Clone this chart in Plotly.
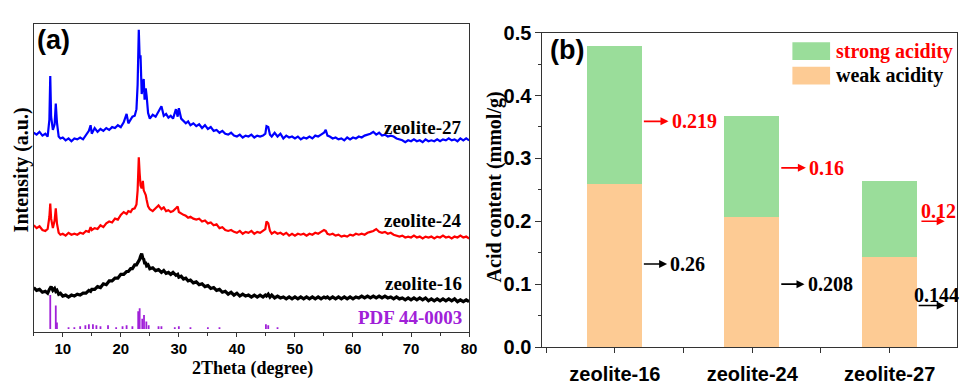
import plotly.graph_objects as go

# ---------------- data: panel (a) XRD patterns ----------------
two_theta = [
    5.0, 5.5, 6.0, 6.5, 7.0, 7.4, 7.7, 7.85, 8.0, 8.3, 8.6, 8.8, 9.0, 9.3, 9.6, 10.0, 10.5, 11.0, 11.5, 12.0, 12.5, 13.0, 13.5,
    14.0, 14.5, 14.8, 15.0, 15.5, 16.0, 16.5, 17.0, 17.5, 18.0, 18.5, 19.0, 19.5, 20.0, 20.5, 21.0, 21.3, 21.7, 22.0, 22.4, 22.7,
    22.9, 23.1, 23.25, 23.4, 23.6, 23.8, 23.95, 24.1, 24.3, 24.45, 24.7, 25.0,
    25.5, 26.0, 26.5, 27.0, 27.4, 27.8, 28.2, 28.6, 29.0, 29.5, 29.8, 30.0, 30.4, 30.8, 31.2, 31.6, 32.0,
    32.5, 33.0, 33.5, 34.0, 34.5, 35.0, 35.5, 36.0, 36.5, 37.0, 37.5, 38.0, 38.5, 39.0, 39.5, 40.0, 40.5, 41.0, 41.5, 42.0, 42.5, 43.0, 43.5, 44.0, 44.5,
    44.9, 45.1, 45.4, 45.7,
    46.0, 46.5, 47.0, 47.5, 48.0, 48.5, 49.0, 49.5, 50.0, 50.5, 51.0, 51.5, 52.0, 52.5, 53.0, 53.5, 54.0, 54.5, 55.0,
    55.3, 55.6,
    56.0, 56.5, 57.0, 57.5, 58.0, 58.5, 59.0, 59.5, 60.0, 60.5, 61.0, 61.5, 62.0, 62.5, 63.0, 63.5, 64.0, 64.5, 65.0, 65.5,
    66.0, 66.5, 67.0, 67.5, 68.0, 68.5, 69.0, 69.5, 70.0, 70.5, 71.0, 71.5, 72.0, 72.5, 73.0, 73.5, 74.0, 74.5, 75.0, 75.5,
    76.0, 76.5, 77.0, 77.5, 78.0, 78.5, 79.0, 79.5, 80.0,
]

zeolite_27 = [
    211, 209, 212, 208, 210, 207, 225, 271, 228, 214, 220, 242, 222, 207, 205, 206, 203, 205, 202, 205, 204, 206, 204,
    209, 213, 219, 210, 216, 212, 215, 213, 216, 214, 217, 216, 219, 217, 222, 231, 221, 225, 228, 229, 236,
    262, 320, 290, 293, 252, 262, 268, 246, 258, 250, 232, 226,
    230, 228, 233, 239, 229, 231, 227, 229, 226, 236, 228, 237, 226, 224, 221, 223, 219,
    221, 218, 220, 216, 219, 215, 217, 213, 214, 211, 213, 210, 209, 211, 208, 207, 209, 206, 208, 207, 209, 206, 208, 207, 208,
    210, 218, 217, 209,
    207, 211, 207, 210, 205, 208, 206, 207, 205, 207, 204, 206, 205, 207, 205, 208, 207, 209, 211,
    214, 208,
    207, 205, 206, 204, 205, 203, 206, 204, 206, 205, 207, 206, 208, 209, 210, 212, 209, 211, 208, 209,
    207, 208, 207, 205, 204, 203, 201, 203, 202, 204, 202, 203, 201, 204, 202, 203, 202, 204, 202, 204,
    203, 205, 203, 204, 202, 205, 203, 205, 203,
]

zeolite_24 = [
    113, 110, 112, 108, 107, 109, 122, 136, 120, 110, 118, 131, 115, 105, 103, 104, 102, 105, 103, 104, 103, 105, 104,
    107, 106, 111, 108, 110, 109, 113, 111, 115, 117, 116, 120, 119, 124, 127, 125, 128, 127, 130, 131, 135,
    150, 185, 168, 155, 152, 160, 150, 148, 145, 140, 133, 130,
    128, 131, 134, 130, 132, 128, 129, 127, 128, 131, 133, 127, 125, 124, 123, 121, 122,
    120, 119, 120, 117, 118, 115, 116, 113, 114, 110, 111, 108, 107, 108, 106, 105, 107, 104, 106, 105, 107, 104, 106, 105, 107,
    109, 117, 115, 107,
    104, 106, 104, 105, 103, 105, 102, 104, 102, 104, 103, 104, 102, 104, 103, 105, 104, 106, 108,
    107, 104,
    103, 104, 102, 103, 101, 102, 101, 103, 102, 104, 103, 104, 103, 105, 106, 107, 109, 106, 105, 106,
    104, 105, 103, 102, 101, 102, 100, 101, 100, 102, 100, 101, 99, 101, 100, 101, 99, 101, 100, 102,
    100, 101, 99, 101, 100, 102, 100, 101, 99,
]

zeolite_16 = [
    47, 44, 45, 42, 43, 41, 45, 47, 48, 44, 46, 43, 44, 40, 41, 38, 39, 37, 39, 38, 40, 39, 41,
    41, 44, 43, 45, 45, 48, 47, 51, 50, 54, 54, 57, 57, 61, 61, 64, 64, 67, 67, 71, 71,
    73, 76, 77, 80, 83, 78, 77, 73, 73, 70, 71, 67,
    68, 65, 66, 63, 65, 62, 63, 61, 63, 60, 61, 58, 59, 56, 57, 54, 55,
    52, 53, 50, 51, 48, 49, 46, 47, 44, 45, 42, 43, 40, 42, 39, 41, 38, 40, 38, 39, 37, 39, 37, 39, 37,
    39, 38, 40, 37,
    39, 36, 38, 36, 37, 35, 37, 35, 37, 35, 37, 35, 37, 35, 37, 35, 37, 35, 37,
    36, 37,
    35, 37, 35, 37, 35, 37, 35, 37, 35, 37, 36, 38, 36, 38, 36, 38, 36, 38, 36, 38,
    36, 37, 35, 37, 35, 36, 34, 36, 34, 36, 34, 36, 34, 36, 33, 35, 33, 35, 33, 35,
    33, 35, 33, 35, 32, 34, 32, 34, 32,
]

# reference pattern PDF 44-0003 (stick positions and heights)
pdf_theta = [7.85, 8.8, 9.0, 11.0, 12.0, 13.0, 13.9, 14.5, 15.2, 15.8, 16.5, 17.8, 19.2, 20.3, 21.0, 22.0,
             23.0, 23.25, 23.7, 24.0, 24.4, 24.8, 26.5, 27.0, 29.3, 30.0, 32.0, 35.0, 37.0, 45.0, 45.4, 47.0]
pdf_height = [36, 25, 7, 2, 2, 3, 4, 5, 5, 4, 3, 4, 2, 3, 4, 3,
              19, 22, 11, 15, 8, 4, 3, 3, 2, 3, 2, 2, 2, 5, 4, 2]
pdf_base = 3

# ---------------- data: panel (b) acid content ----------------
samples = ["zeolite-16", "zeolite-24", "zeolite-27"]
weak_acidity = [0.26, 0.208, 0.144]
strong_acidity = [0.219, 0.16, 0.12]

# ---------------- styling ----------------
SERIF = "Liberation Serif, Times New Roman, serif"
SANS = "Liberation Sans, Arial, sans-serif"
GREEN = "#9ADD9A"
ORANGE = "#FDCB94"
PURPLE = "#A020D8"
FRAME = "#333333"

fig = go.Figure()

fig.add_trace(go.Scatter(x=two_theta, y=zeolite_16, mode="lines",
                         line=dict(color="black", width=3.2), xaxis="x", yaxis="y", showlegend=False))
fig.add_trace(go.Scatter(x=two_theta, y=zeolite_24, mode="lines",
                         line=dict(color="#FF0000", width=2.2), xaxis="x", yaxis="y", showlegend=False))
fig.add_trace(go.Scatter(x=two_theta, y=zeolite_27, mode="lines",
                         line=dict(color="#0000FF", width=2.2), xaxis="x", yaxis="y", showlegend=False))

stick_x, stick_y = [], []
for t, h in zip(pdf_theta, pdf_height):
    stick_x += [t, t, None]
    stick_y += [pdf_base, pdf_base + h, None]
fig.add_trace(go.Scatter(x=stick_x, y=stick_y, mode="lines",
                         line=dict(color=PURPLE, width=1.8), xaxis="x", yaxis="y", showlegend=False))

xpos = list(range(len(samples)))
fig.add_trace(go.Bar(x=xpos, y=weak_acidity, width=0.4, marker=dict(color=ORANGE, line=dict(width=0)),
                     xaxis="x2", yaxis="y2", showlegend=False, name="weak acidity"))
fig.add_trace(go.Bar(x=xpos, y=strong_acidity, width=0.4, marker=dict(color=GREEN, line=dict(width=0)),
                     xaxis="x2", yaxis="y2", showlegend=False, name="strong acidity"))

W, H = 968, 392


def px_x(p):
    return p / W


def px_y(p):
    return 1 - p / H


annotations = []

# panel (a) curve labels
label_specs = [("zeolite-27", 217, "black"), ("zeolite-24", 118, "black"),
               ("zeolite-16", 51, "black"), ("PDF 44-0003", 15, PURPLE)]
for txt, yv, col in label_specs:
    annotations.append(dict(x=79.2, y=yv, xref="x", yref="y", text=f"<b>{txt}</b>", showarrow=False,
                            xanchor="right", yanchor="middle", font=dict(family=SERIF, size=19, color=col)))

# panel letters and axis titles
annotations += [
    dict(x=px_x(35), y=px_y(13), xref="paper", yref="paper", text="<b>(a)</b>", showarrow=False,
         xanchor="left", yanchor="top", font=dict(family=SANS, size=27, color="black")),
    dict(x=px_x(553), y=px_y(23), xref="paper", yref="paper", text="<b>(b)</b>", showarrow=False,
         xanchor="left", yanchor="top", font=dict(family=SANS, size=27, color="black")),
    dict(x=px_x(22), y=px_y(168), xref="paper", yref="paper", text="<b>Intensity (a.u.)</b>", showarrow=False,
         textangle=-90, xanchor="center", yanchor="middle", font=dict(family=SERIF, size=20, color="black")),
    dict(x=px_x(255), y=0, xref="paper", yref="paper", text="<b>2Theta (degree)</b>", showarrow=False,
         xanchor="center", yanchor="bottom", borderpad=0, yshift=1,
         font=dict(family=SERIF, size=18, color="black")),
    dict(x=px_x(499), y=px_y(186), xref="paper", yref="paper", text="<b>Acid content (mmol/g)</b>", showarrow=False,
         textangle=-90, xanchor="center", yanchor="middle", font=dict(family=SERIF, size=20, color="black")),
]

# legend (manual, large swatches)
legend_items = [("strong acidity", GREEN, "#FF0000", 33, 52), ("weak acidity", ORANGE, "black", 59, 78)]
shapes = []
for txt, fill, tcol, y0, y1 in legend_items:
    shapes.append(dict(type="rect", xref="paper", yref="paper", x0=px_x(799), x1=px_x(837),
                       y0=px_y(y1), y1=px_y(y0), fillcolor=fill, line=dict(width=0)))
    annotations.append(dict(x=px_x(841), y=px_y((y0 + y1) / 2), xref="paper", yref="paper",
                            text=f"<b>{txt}</b>", showarrow=False, xanchor="left", yanchor="middle",
                            font=dict(family=SERIF, size=20, color=tcol)))

# value callouts with arrows
# (tail x, head x, arrow y, text x, text y, colour, value)
callouts = [
    (0.2, 0.39, 0.359, 0.40, 0.359, "#FF0000", strong_acidity[0]),
    (1.2, 1.39, 0.285, 1.40, 0.285, "#FF0000", strong_acidity[1]),
    (2.22, 2.40, 0.200, 2.21, 0.216, "#FF0000", strong_acidity[2]),
    (0.2, 0.38, 0.132, 0.39, 0.132, "black", weak_acidity[0]),
    (1.2, 1.38, 0.100, 1.39, 0.100, "black", weak_acidity[1]),
    (2.20, 2.40, 0.066, 2.16, 0.082, "black", weak_acidity[2]),
]
for tx, hx, ay, txx, tyy, col, val in callouts:
    annotations.append(dict(x=hx, y=ay, ax=tx, ay=ay, xref="x2", yref="y2", axref="x2", ayref="y2",
                            text="", showarrow=True, arrowhead=2, arrowsize=1, arrowwidth=1.6, arrowcolor=col))
    annotations.append(dict(x=txx, y=tyy, xref="x2", yref="y2", text=f"<b>{val:g}</b>", showarrow=False,
                            xanchor="left", yanchor="middle", font=dict(family=SERIF, size=20, color=col)))

axis_common = dict(showgrid=False, zeroline=False, showline=True, linecolor=FRAME, linewidth=1.2, mirror=True)

fig.update_layout(
    width=W, height=H, margin=dict(l=0, r=0, t=0, b=0),
    paper_bgcolor="white", plot_bgcolor="white",
    barmode="stack", bargap=0,
    xaxis=dict(domain=[px_x(34), px_x(473)], range=[5, 80], anchor="y",
               tickmode="array", tickvals=[10, 20, 30, 40, 50, 60, 70, 80],
               ticks="outside", ticklen=4, tickwidth=1.2, tickcolor=FRAME, ticklabelstandoff=-1,
               minor=dict(tickmode="linear", tick0=5, dtick=5, ticks="outside", ticklen=3, tickcolor=FRAME),
               tickfont=dict(family=SANS, size=15, color="black", weight="bold"), **axis_common),
    yaxis=dict(domain=[px_y(340), px_y(14)], range=[0, 326], anchor="x",
               showticklabels=False, ticks="", **axis_common),
    xaxis2=dict(domain=[px_x(547), px_x(965)], range=[-0.527, 2.49], anchor="y2",
                tickmode="array", tickvals=xpos, ticktext=samples,
                ticks="outside", ticklen=5, tickwidth=1.2, tickcolor=FRAME, ticklabelstandoff=4,
                minor=dict(tickmode="linear", tick0=0.5, dtick=1, ticks="outside", ticklen=5, tickcolor=FRAME),
                tickfont=dict(family=SANS, size=20, color="black", weight="bold"), **axis_common),
    yaxis2=dict(domain=[px_y(356), px_y(23)], range=[0, 0.5], anchor="x2",
                tickmode="linear", tick0=0, dtick=0.1, tickformat=".1f",
                ticks="outside", ticklen=6, tickwidth=1.2, tickcolor=FRAME,
                minor=dict(tickmode="linear", tick0=0, dtick=0.05, ticks="outside", ticklen=3, tickcolor=FRAME),
                tickfont=dict(family=SANS, size=20, color="black", weight="bold"), **axis_common),
    annotations=annotations,
    shapes=shapes,
)

fig.write_html("out.html",
               post_script="document.body.style.margin='0px';document.body.style.overflow='hidden';")
